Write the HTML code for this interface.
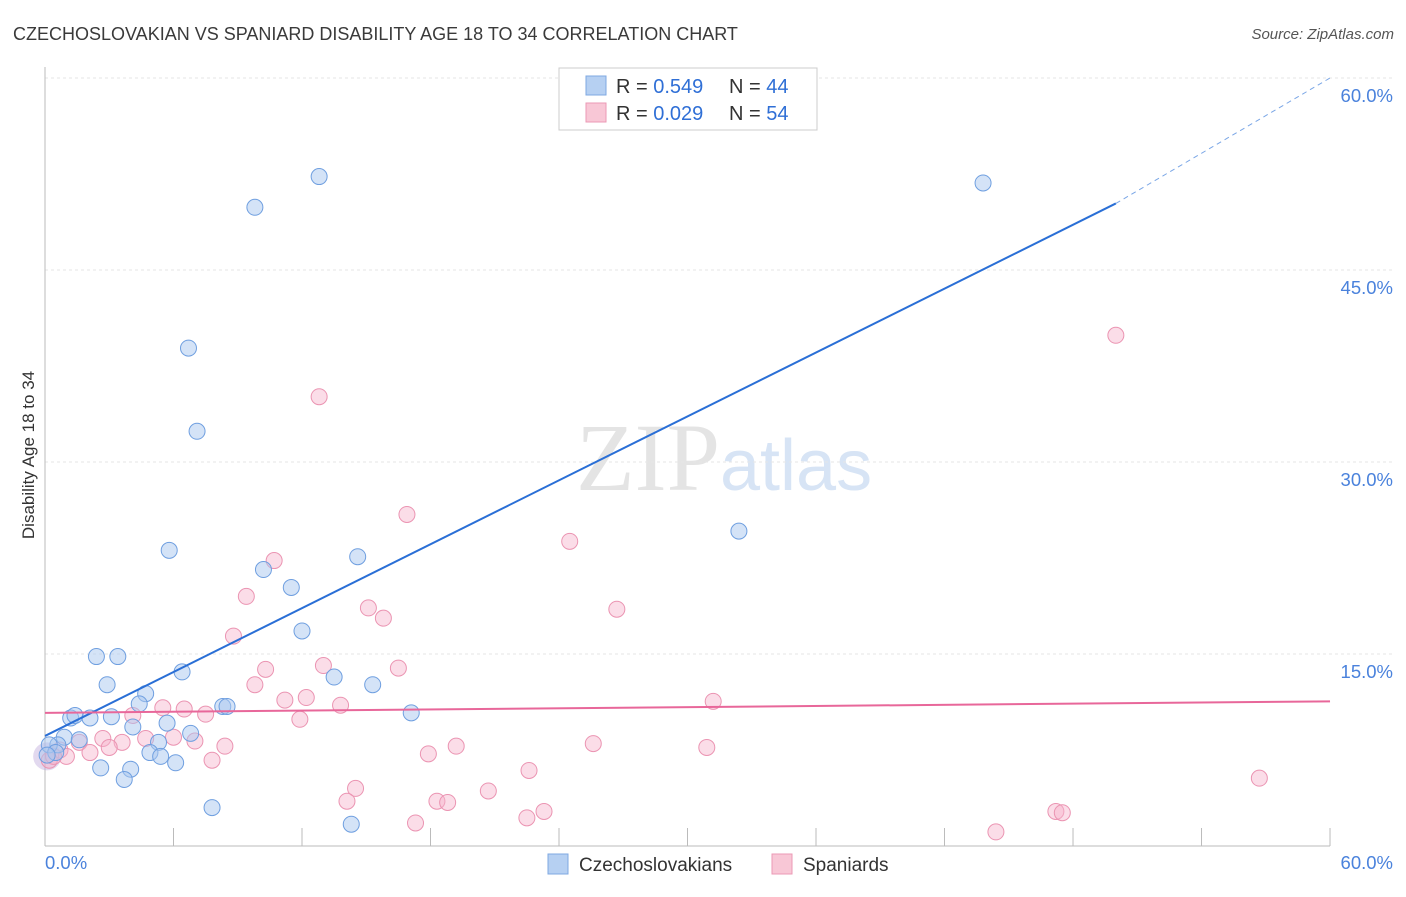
<!DOCTYPE html>
<html><head><meta charset="utf-8"><style>
body{margin:0;background:#fff;font-family:"Liberation Sans",sans-serif;}
</style></head><body>
<svg width="1406" height="892" xmlns="http://www.w3.org/2000/svg">
<text x="13" y="40" font-size="18" fill="#3a3a3a">CZECHOSLOVAKIAN VS SPANIARD DISABILITY AGE 18 TO 34 CORRELATION CHART</text>
<text x="1394" y="39" font-size="15" fill="#555" font-style="italic" text-anchor="end">Source: ZipAtlas.com</text>
<text x="720" y="490" font-size="96" fill="#e4e4e4" text-anchor="end" font-family="Liberation Serif,serif">ZIP</text>
<text x="720" y="490" font-size="72" fill="#d7e4f5">atlas</text>
<g id="grid"></g>
<g id="axes"></g>
<text transform="translate(34,455) rotate(-90)" font-size="17" fill="#333" text-anchor="middle">Disability Age 18 to 34</text>
<g id="pts"></g>
<g id="lines"></g>
<g>
<rect x="559" y="68" width="258" height="62" fill="#fff" stroke="#ccc"/>
<rect x="586" y="76" width="20" height="19" fill="#b6d0f2" stroke="#7fa8e2"/>
<rect x="586" y="103" width="20" height="19" fill="#f8c7d6" stroke="#eb9ab5"/>
<text x="616" y="93" font-size="20" fill="#333">R = <tspan fill="#2f6fd6">0.549</tspan></text>
<text x="729" y="93" font-size="20" fill="#333">N = <tspan fill="#2f6fd6">44</tspan></text>
<text x="616" y="120" font-size="20" fill="#333">R = <tspan fill="#2f6fd6">0.029</tspan></text>
<text x="729" y="120" font-size="20" fill="#333">N = <tspan fill="#2f6fd6">54</tspan></text>
</g>
<g>
<rect x="548" y="854" width="20" height="20" fill="#b6d0f2" stroke="#7fa8e2"/>
<text x="579" y="871" font-size="19" fill="#333">Czechoslovakians</text>
<rect x="772" y="854" width="20" height="20" fill="#f8c7d6" stroke="#eb9ab5"/>
<text x="803" y="871" font-size="19" fill="#333">Spaniards</text>
</g>
</svg>
<script>
const yTicks=[15,30,45,60];
const xTickLabels=["0.0%","60.0%"];
const blueX=[12.8,9.8,43.8,6.7,7.1,32.4,5.8,14.6,10.2,11.5,12.0,2.4,3.4,6.4,13.5,15.3,2.9,4.7,4.4,8.3,8.5,1.2,1.4,2.1,3.1,5.7,17.1,4.1,6.8,0.9,1.6,5.3,0.6,0.2,4.9,5.4,6.1,2.6,4.0,3.7,7.8,14.3,0.5,0.1];
const blueY=[52.3,49.9,51.8,38.9,32.4,24.6,23.1,22.6,21.6,20.2,16.8,14.8,14.8,13.6,13.2,12.6,12.6,11.9,11.1,10.9,10.9,10.0,10.2,10.0,10.1,9.6,10.4,9.3,8.8,8.5,8.3,8.1,7.9,7.9,7.3,7.0,6.5,6.1,6.0,5.2,3.0,1.7,7.3,7.1];
const pinkX=[12.8,50.0,16.9,24.5,10.7,9.4,15.1,26.7,15.8,8.8,13.0,10.3,16.5,9.8,12.2,11.2,31.2,6.5,5.5,13.8,7.5,11.9,4.1,6.0,2.7,3.6,4.7,7.0,8.4,3.0,1.6,2.1,0.7,1.0,7.8,17.9,19.2,30.9,25.6,22.6,56.7,14.5,20.7,14.1,18.3,18.8,23.3,22.5,17.3,47.2,47.5,44.4,0.2,0.4];
const pinkY=[35.1,39.9,25.9,23.8,22.3,19.5,18.6,18.5,17.8,16.4,14.1,13.8,13.9,12.6,11.6,11.4,11.3,10.7,10.8,11.0,10.3,9.9,10.2,8.5,8.4,8.1,8.4,8.2,7.8,7.7,8.1,7.3,7.5,7.0,6.7,7.2,7.8,7.7,8.0,5.9,5.3,4.5,4.3,3.5,3.5,3.4,2.7,2.2,1.8,2.7,2.6,1.1,6.7,7.0];
const blueLine=[8.6,50.2,60.0];
const pinkLine=[10.4,11.3];
const X=v=>45+v*21.417, Y=v=>846-v*12.8;
const NS="http://www.w3.org/2000/svg";
function mk(p,t,a){const e=document.createElementNS(NS,t);for(const k in a)e.setAttribute(k,a[k]);document.getElementById(p).appendChild(e);return e;}
yTicks.forEach(t=>{
 const g=mk('grid','line',{x1:45,x2:1394,y1:Y(t),y2:Y(t),stroke:'#e6e6e6','stroke-dasharray':'3,3'});
 
 
 const l=mk('grid','text',{x:1393,y:Y(t)+24,'font-size':18.5,fill:'#4a82dc','text-anchor':'end'});
 l.textContent=t.toFixed(1)+'%';
 
 
});
const ax=mk('axes','line',{x1:45,x2:45,y1:67,y2:846,stroke:'#bbb'});


const bx=mk('axes','line',{x1:45,x2:1330,y1:846,y2:846,stroke:'#bbb'});


for(let i=1;i<=10;i++){const t=mk('axes','line',{x1:X(i*6),x2:X(i*6),y1:828,y2:846,stroke:'#bbb'});
 
 }
[[0,'start',45],[60,'end',1393]].forEach((d,i)=>{const t=mk('axes','text',{x:d[2],y:869,'font-size':18.5,fill:'#4a82dc','text-anchor':d[1]});t.textContent=xTickLabels[i];
 
 });
const big=mk('pts','circle',{cx:X(0.1),cy:Y(7),r:14,fill:'rgba(190,170,220,0.45)'});


pinkX.forEach((x,i)=>{const c=mk('pts','circle',{cx:X(x),cy:Y(pinkY[i]),r:8,fill:'rgba(246,180,203,0.45)',stroke:'#eb94b2','stroke-width':1});
 
 });
blueX.forEach((x,i)=>{const c=mk('pts','circle',{cx:X(x),cy:Y(blueY[i]),r:8,fill:'rgba(170,200,240,0.5)',stroke:'#6f9fe0','stroke-width':1});
 
 });
const bl=mk('lines','line',{x1:X(0),y1:Y(blueLine[0]),x2:X(50),y2:Y(blueLine[1]),stroke:'#2a6fd6','stroke-width':2});


const bd=mk('lines','line',{x1:X(50),y1:Y(blueLine[1]),x2:X(60),y2:Y(blueLine[2]),stroke:'#7aa6e6','stroke-width':1,'stroke-dasharray':'5,4'});


const pl=mk('lines','line',{x1:X(0),y1:Y(pinkLine[0]),x2:X(60),y2:Y(pinkLine[1]),stroke:'#e8679a','stroke-width':2});


</script>
</body></html>
